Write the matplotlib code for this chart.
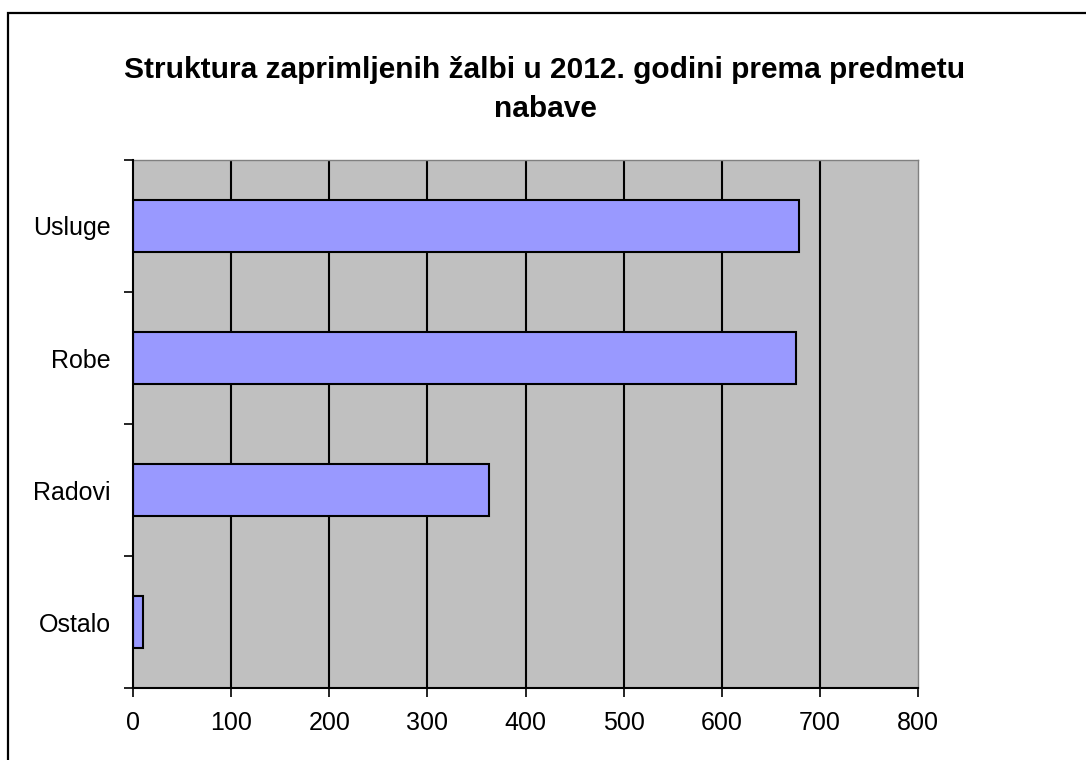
import matplotlib
matplotlib.use("Agg")
import matplotlib.pyplot as plt
from matplotlib.patches import Rectangle

plt.rcParams['font.family'] = ['Liberation Sans', 'DejaVu Sans']

title = "Struktura zaprimljenih žalbi u 2012. godini prema predmetu\nnabave"
categories = ["Ostalo", "Radovi", "Robe", "Usluge"]
values = [10, 363, 676, 679]
xticks = [0, 100, 200, 300, 400, 500, 600, 700, 800]

fig = plt.figure(figsize=(10.86, 7.6), dpi=100)
W, H = 1086, 760

# figure border (top-left visible, rest cropped)
fig.patches.append(Rectangle((8 / W, -0.1), 1.2, (H - 13) / H + 0.1,
                             transform=fig.transFigure, fill=False,
                             edgecolor='black', linewidth=1.6))

ax = fig.add_axes([133 / W, 72 / H, (918 - 133) / W, (688 - 160) / H])
ax.set_facecolor('#C0C0C0')

y = list(range(len(categories)))
ax.barh(y, values, height=0.4, color='#9999FF', edgecolor='black', linewidth=1.5, zorder=3)

ax.set_xlim(0, 800)
ax.set_ylim(-0.5, len(categories) - 0.5)
ax.set_xticks(xticks)
ax.set_xticklabels([str(v) for v in xticks])
ax.set_yticks([i - 0.5 for i in range(len(categories) + 1)])
ax.set_yticklabels([])
ax.set_yticks(y, minor=True)
ax.set_yticklabels(categories, minor=True)

ax.tick_params(axis='y', which='major', direction='out', length=6.5, width=1.2, color='black')
ax.tick_params(axis='y', which='minor', length=0, pad=16, labelsize=18)
ax.tick_params(axis='x', which='major', direction='out', length=6.5, width=1.2, color='black', pad=10, labelsize=18)

ax.grid(axis='x', color='black', linewidth=1.5, zorder=1)
ax.set_axisbelow(True)
gl = ax.xaxis.get_gridlines()
gl[0].set_visible(False)
gl[-1].set_visible(False)

for s in ['left', 'bottom']:
    ax.spines[s].set_color('black')
    ax.spines[s].set_linewidth(1.5)
    ax.spines[s].set_zorder(4)
for s in ['top', 'right']:
    ax.spines[s].set_color('#808080')
    ax.spines[s].set_linewidth(1.0)

fig.text(545 / W, 1 - 117 / H, title, ha='center', va='baseline', fontsize=21.5,
         fontweight='bold', linespacing=1.5, multialignment='center')

fig.savefig('out.png', dpi=100)
